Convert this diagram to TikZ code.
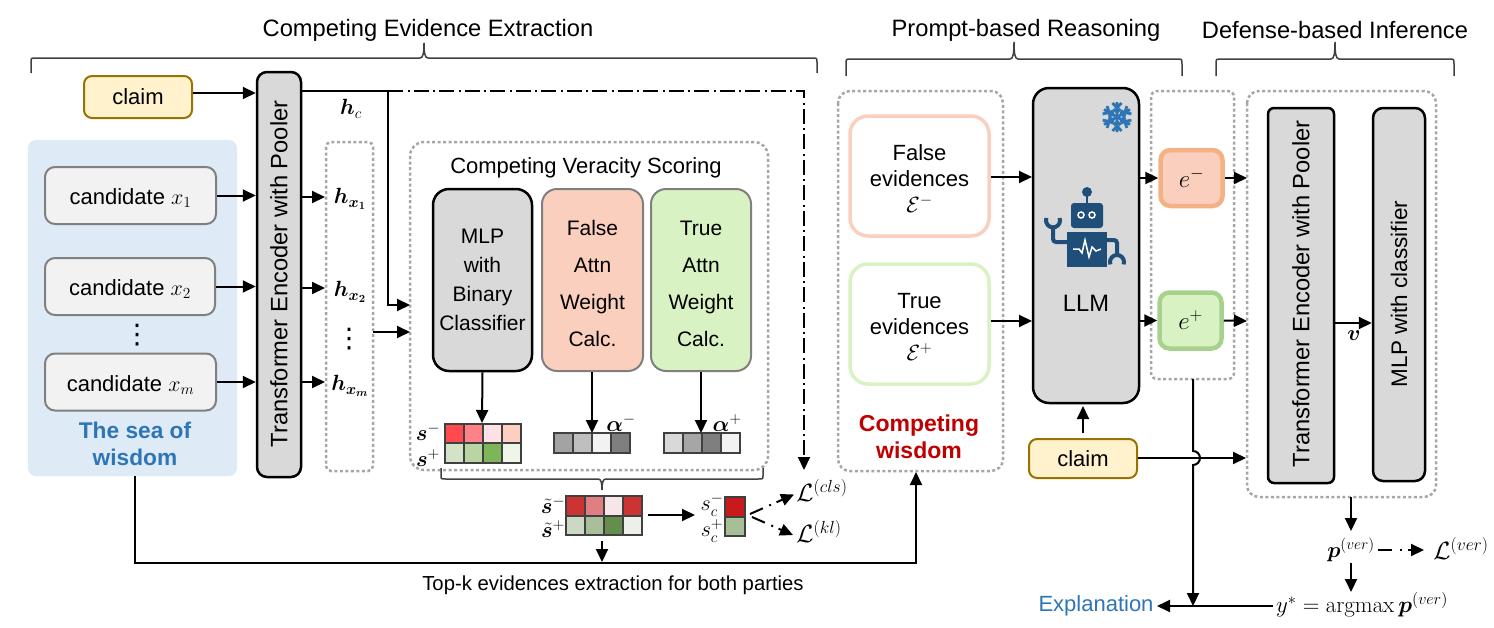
\documentclass[tikz,border=0pt]{standalone}
\usepackage{fix-cm}
\usepackage[no-math]{fontspec}
\setmainfont{Liberation Sans}
\newfontfamily\symfont{DejaVu Sans}
\usepackage{amsmath,bm}
\usetikzlibrary{arrows.meta, positioning}
\definecolor{seablue}{HTML}{DEEAF6}
\definecolor{textblue}{HTML}{2E75B6}
\definecolor{claimfill}{HTML}{FFF2CC}
\definecolor{claimline}{HTML}{997300}
\definecolor{blockgray}{HTML}{D9D9D9}
\definecolor{falsefill}{HTML}{FBCFBE}
\definecolor{truefill}{HTML}{D9F2C4}
\definecolor{falseedge}{HTML}{F4B183}
\definecolor{trueedge}{HTML}{A9D18E}
\definecolor{robotblue}{HTML}{1F4E79}
\definecolor{wisdomred}{HTML}{C00000}

% one strip of heat cells: left x, top y, hex colours
\newcommand{\heatrow}[3]{
  \foreach \c [count=\i from 0] in {#3} {
    \definecolor{cellcol}{HTML}{\c}
    \draw[cell, fill=cellcol] (#1+\i*19,#2) rectangle ++(19,19.5);
  }
}
% square brace: left x, right x, end y, signed rise
\newcommand{\groupbrace}[4]{
  \draw[bracelink] (#1,#3) -- (#1,{#3+0.7*(#4)}) .. controls (#1,{#3+#4}) and (#1,{#3+#4}) .. ({#1+5},{#3+#4})
    -- ({(#1+#2)/2-4},{#3+#4}) .. controls ({(#1+#2)/2-1},{#3+#4}) and ({(#1+#2)/2},{#3+1.3*(#4)}) .. ({(#1+#2)/2},{#3+2*(#4)})
    .. controls ({(#1+#2)/2},{#3+1.3*(#4)}) and ({(#1+#2)/2+1},{#3+#4}) .. ({(#1+#2)/2+4},{#3+#4})
    -- ({#2-5},{#3+#4}) .. controls (#2,{#3+#4}) and (#2,{#3+#4}) .. (#2,{#3+0.7*(#4)}) -- (#2,#3);
}

\begin{document}
\begin{tikzpicture}[
    x=1pt, y=-1pt,
    font=\fontsize{22}{26}\selectfont,
    headtext/.style={font=\fontsize{23.7}{27}\selectfont},
    bigmath/.style={font=\fontsize{25}{29}\selectfont},
    flow/.style={-{Triangle[length=13pt,width=12pt]}, line width=2pt},
    mixflow/.style={flow, dash pattern=on 15pt off 4.5pt on 2pt off 4pt},
    plainline/.style={line width=2pt},
    block/.style={rectangle, draw, line width=2.5pt, rounded corners=10pt, fill=blockgray, inner sep=0pt},
    soft/.style={rectangle, draw=black!50, line width=2pt, rounded corners=15pt, inner sep=0pt, align=center},
    claim/.style={rectangle, draw=claimline, line width=2pt, fill=claimfill, rounded corners=8pt, minimum width=108pt, minimum height=42pt, inner sep=0pt},
    cand/.style={rectangle, draw=black!50, line width=2pt, fill=black!5, rounded corners=10pt, minimum width=171pt, minimum height=57pt, inner sep=0pt, text height=20pt, text depth=2pt},
    dotbox/.style={draw=black!35, line width=2.5pt, dash pattern=on 3pt off 2.5pt, rounded corners=12pt},
    evid/.style={rectangle, line width=3.5pt, fill=white, rounded corners=18pt, minimum width=139pt, minimum height=120pt, inner sep=0pt, align=center},
    echip/.style={rectangle, line width=4.5pt, rounded corners=10pt, minimum width=62pt, minimum height=56pt, inner sep=0pt},
    cell/.style={draw=black!75, line width=2pt},
    bracelink/.style={draw=black!75, line width=1.5pt}
]
\useasboundingbox (0,0) rectangle (1494,627);

% section headings
\node[headtext] (headextract) at (428,30) {Competing Evidence Extraction};
\node[headtext] (headprompt) at (1026,30) {Prompt-based Reasoning};
\node[headtext] (headdefense) at (1335,30) {Defense-based Inference};
\groupbrace{31}{817}{73}{-15}
\groupbrace{846}{1182}{76}{-17}
\groupbrace{1216}{1454}{76}{-17}

% left part
\fill[seablue, rounded corners=8pt] (28,140) rectangle (237,476);
\node[claim] (claimtop) at (138,97) {claim};
\node[block, minimum width=44pt, minimum height=405pt] (encoder) at (279,274.5) {};
\node[rotate=90, headtext] (encodertext) at (279,274) {Transformer Encoder with Pooler};
\node[cand] (candone) at (130.5,195.5) {candidate $x_1$};
\node[cand, minimum width=170pt] (candtwo) at (130,286.5) {candidate $x_2$};
\node[cand] (candm) at (130.5,382) {candidate $x_m$};
\node[font=\fontsize{27}{30}\selectfont] (canddots) at (137,335) {\symfont ⋮};
\node[align=center, text=textblue, font=\fontsize{22.7}{26.5}\selectfont\bfseries] (sea) at (135,444) {The sea of\\wisdom};
\coordinate (seabottom) at (135,476);

\draw[flow] (claimtop.east |- 0,93) -- (encoder.west |- 0,93);
\draw[flow] (candone.east) -- (encoder.west |- candone.east);
\draw[flow] (candtwo.east) -- (encoder.west |- candtwo.east);
\draw[flow] (candm.east) -- (encoder.west |- candm.east);

% encoder outputs
\draw[dotbox, rounded corners=5pt] (326,142) rectangle (373,471);
\node (hone) at (350,199) {$\bm{h_{x_1}}$};
\node (htwo) at (350,292) {$\bm{h_{x_2}}$};
\node (hm) at (350,386) {$\bm{h_{x_m}}$};
\node[font=\fontsize{27}{30}\selectfont] (hdots) at (349,339) {\symfont ⋮};
\node (hc) at (351,109) {$\bm{h}_c$};
\coordinate (hboxin1) at (325,197);
\coordinate (hboxin2) at (325,288);
\coordinate (hboxin3) at (325,382);
\draw[flow] (encoder.east |- hboxin1) -- (hboxin1);
\draw[flow] (encoder.east |- hboxin2) -- (hboxin2);
\draw[flow] (encoder.east |- hboxin3) -- (hboxin3);

% scoring box
\draw[dotbox, rounded corners=14pt] (410,142) rectangle (768,470);
\node (scoretitle) at (586,168) {Competing Veracity Scoring};
\node[block, minimum width=99pt, minimum height=182pt, rounded corners=16pt, align=center, font=\fontsize{21}{29}\selectfont] (mlp) at (482.5,280) {MLP\\with\\Binary\\Classifier};
\node[soft, fill=falsefill, minimum width=101pt, minimum height=182pt, font=\fontsize{21}{37}\selectfont] (falseattn) at (592.5,280) {\rule{0pt}{23pt}False\\Attn\\Weight\\Calc.};
\node[soft, fill=truefill, minimum width=100pt, minimum height=182pt, font=\fontsize{21}{37}\selectfont] (trueattn) at (701,280) {\rule{0pt}{23pt}True\\Attn\\Weight\\Calc.};

\coordinate (branch) at (388,91);
\coordinate (lossend) at (804,470);
\coordinate (scorein1) at (410,305);
\coordinate (scorein2) at (410,332);
\coordinate (hboxout) at (373,332);
\draw[plainline] (encoder.east |- branch) -- (branch);
\draw[mixflow] (branch) -- (804,91) -- (lossend);
\draw[flow] (branch) -- (388,305) -- (scorein1);
\draw[flow] (hboxout) -- (scorein2);

% score strips
\heatrow{445}{423.5}{FF4B4F,FF8287,FFE1E6,FDCFC0}
\heatrow{445}{443}{D3E3C8,B8D5A2,7CB658,EEF6E9}
\heatrow{554}{433}{A3A3A3,BFBFBF,F2F2F2,7F7F7F}
\heatrow{664}{433}{D9D9D9,A6A6A6,7F7F7F,F2F2F2}
\node (sminus) at (428,432) {$\bm{s}^-$};
\node (splus) at (428,458) {$\bm{s}^+$};
\node (aminus) at (621,423) {$\bm{\alpha}^-$};
\node (aplus) at (727,423) {$\bm{\alpha}^+$};
\coordinate (stripa) at (482,423);
\coordinate (stripb) at (592,433);
\coordinate (stripc) at (701,433);
\draw[flow] (mlp.south) -- (stripa);
\draw[flow] (falseattn.south -| stripb) -- (stripb);
\draw[flow] (trueattn.south -| stripc) -- (stripc);

\groupbrace{441}{763}{468}{11}

% combined scores
\heatrow{566}{496}{CC3333,E07F82,F7E6E8,CC3333}
\heatrow{566}{515.5}{CCD8C2,A8BF9A,648E4B,EDF0E9}
\draw[cell, fill={rgb,255:red,200;green,26;blue,26}] (725,497) rectangle (745,517);
\draw[cell, fill={rgb,255:red,166;green,191;blue,148}] (725,517) rectangle (745,536);
\node (stminus) at (553,505) {$\tilde{\bm{s}}^-$};
\node (stplus) at (553,529) {$\tilde{\bm{s}}^+$};
\node (scminus) at (712,505) {$s_c^-$};
\node (scplus) at (712,531) {$s_c^+$};
\node[bigmath] (losscls) at (822,490) {$\mathcal{L}^{(cls)}$};
\node[bigmath] (losskl) at (819,531) {$\mathcal{L}^{(kl)}$};
\coordinate (combout) at (648,515);
\coordinate (combin) at (695,515);
\coordinate (toplinein) at (602,562);
\draw[flow] (combout) -- (combin);
\draw[mixflow, dash pattern=on 14pt off 7pt on 2pt off 6pt] (750,514) -- (794,494.5);
\draw[mixflow, dash pattern=on 14pt off 7pt on 2pt off 6pt] (752,517) -- (793,535);
\draw[flow] (602,541) -- (toplinein);
\node[font=\fontsize{20.3}{24}\selectfont] (topk) at (613,585) {Top-k evidences extraction for both parties};

% competing wisdom
\draw[dotbox] (838,91) rectangle (1003,471);
\node[evid, draw=falsefill] (falseev) at (919.5,176) {\rule{0pt}{21pt}False\\evidences\\$\mathcal{E}^-$};
\node[evid, draw=truefill] (trueev) at (919.5,324) {\rule{0pt}{21pt}True\\evidences\\$\mathcal{E}^+$};
\node[align=center, text=wisdomred, font=\fontsize{23}{27}\selectfont\bfseries] (wisdom) at (919,437) {Competing\\wisdom};
\coordinate (wisdomin) at (916,472);
\draw[flow] (seabottom) -- (135,563) -- (916,563) -- (wisdomin);

% LLM
\node[block, minimum width=106pt, minimum height=315pt, rounded corners=16pt] (llm) at (1086,245.5) {};
\node[headtext] (llmtext) at (1086,303) {LLM};
\coordinate (llmin1) at (1032,177);
\coordinate (llmin2) at (1032,321);
\draw[flow] (falseev.east |- llmin1) -- (llmin1);
\draw[flow] (trueev.east |- llmin2) -- (llmin2);

% robot icon
\fill[robotblue, rounded corners=3pt] (1071,203) rectangle (1103,228);
\fill[robotblue] (1067,232) rectangle (1107,267);
\fill[robotblue] (1087,192) circle (5);
\draw[robotblue, line width=2.5pt] (1087,192) -- (1087,204);
\draw[white, line width=1.5pt, fill=robotblue] (1081,215) circle (3) (1092,215) circle (3);
\draw[white, line width=1.5pt] (1073,249) -- (1079,249) -- (1082,253) -- (1085,240) -- (1089,257) -- (1092,247) -- (1096,251) -- (1101,249);
\draw[robotblue, line width=4pt, rounded corners=3pt] (1067,242) -- (1053,242) -- (1053,227);
\draw[robotblue, line width=4pt] (1059.6,218) arc[start angle=-20, end angle=200, radius=7];
\draw[robotblue, line width=4pt, rounded corners=3pt] (1107,240) -- (1117,240) -- (1117,255);
\draw[robotblue, line width=4pt] (1123.6,264.4) arc[start angle=20, end angle=-200, radius=7];

% snowflake
\begin{scope}[shift={(1117,117)}]
  \foreach \a in {30,90,...,330} {
    \draw[textblue, line width=2.8pt, rotate=\a] (0,0) -- (15,0) (9,0) -- (14,4.5) (9,0) -- (14,-4.5) (4.5,0) -- (8,3.5) (4.5,0) -- (8,-3.5);
  }
\end{scope}

% generated evidence
\draw[dotbox, rounded corners=6pt] (1151,91) rectangle (1234,379);
\node[echip, draw=falseedge, fill=falsefill, bigmath] (eminus) at (1191.5,178) {$e^-$};
\node[echip, draw=trueedge, fill=truefill, bigmath] (eplus) at (1190.5,320.5) {$e^+$};
\coordinate (evidout) at (1193,379);
\draw[flow] (llm.east |- eminus) -- (eminus.west);
\draw[flow] (llm.east |- eplus) -- (eplus.west);
\draw[flow] (eminus.east) -- (1247,178);
\draw[flow] (eplus.east) -- (1247,321);

% defense part
\draw[dotbox] (1247,91) rectangle (1436,497);
\node[block, minimum width=66pt, minimum height=375pt, rounded corners=6pt] (defenc) at (1301,295.5) {};
\node[rotate=90, headtext] (defenctext) at (1301,294) {Transformer Encoder with Pooler};
\node[block, minimum width=52pt, minimum height=373pt] (defmlp) at (1399,294.5) {};
\node[rotate=90, font=\fontsize{22.5}{26}\selectfont] (defmlptext) at (1399,294) {MLP with classifier};
\coordinate (vmark) at (1354,323);
\node (vlabel) at (1354,336) {$\bm{v}$};
\draw[flow] (defenc.east |- vmark) -- (defmlp.west |- vmark);

% claim into LLM and defense
\node[claim, minimum height=39pt] (claimlow) at (1083,458.5) {claim};
\coordinate (llmfoot) at (1083,406);
\draw[flow] (1083,433) -- (llmfoot);
\coordinate (defin) at (1246,458);
\draw[flow] (claimlow.east |- defin) -- (defin);

% outputs
\node (pver) at (1351,550) {$\bm{p}^{(ver)}$};
\node[bigmath] (lossver) at (1461,548) {$\mathcal{L}^{(ver)}$};
\node[font=\fontsize{23}{27}\selectfont] (ystar) at (1362,605) {$y^{*}=\operatorname{argmax}\bm{p}^{(ver)}$};
\node[text=textblue] (explain) at (1096,606) {Explanation};
\coordinate (defout) at (1351,497);
\coordinate (pin) at (1351,531);
\draw[flow] (defout) -- (pin);
\draw[flow] (1351,563) -- (1351,592);
\draw[mixflow, dash pattern=on 14pt off 8pt on 2pt off 6pt] (pver.east) -- (1424,550);
\draw[flow] (ystar.west |- explain) -- (explain.east);
\draw[flow] (evidout) -- (1193,451) arc[start angle=-90, end angle=90, radius=7] -- (1193,606);
\end{tikzpicture}
\end{document}
